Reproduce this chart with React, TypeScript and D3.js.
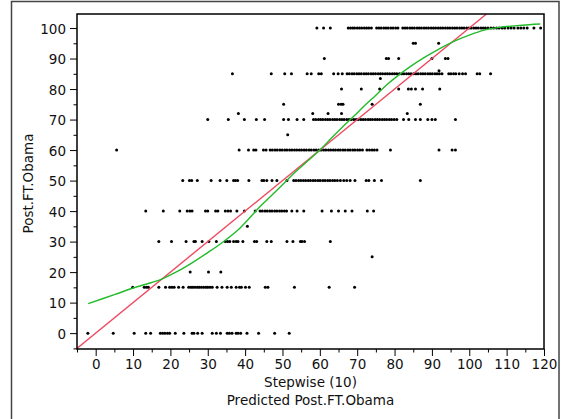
import React from "react";
import * as d3 from "d3";

// Stepwise (10) predictions (x) for each observed Post.FT.Obama value (y)
const obsAt100 = [
  59.2, 61.0, 62.8, 67.6, 68.2, 68.8, 69.3, 70.0, 70.6, 71.2, 71.9, 72.5, 73.1, 73.8, 75.2, 75.8,
  76.4, 77.1, 77.7, 78.3, 79.0, 79.6, 80.3, 80.9, 82.2, 82.8, 83.4, 84.1, 84.7, 85.3, 86.0, 86.6,
  87.2, 87.9, 88.5, 89.1, 89.8, 90.4, 91.0, 91.7, 92.3, 92.9, 93.6, 94.2, 94.8, 95.5, 96.1, 96.7,
  97.4, 98.0, 98.6, 99.3, 99.9, 100.5, 101.2, 101.8, 102.4, 103.1, 103.7, 104.3, 105.0, 105.8,
  106.5, 107.3, 108.0, 108.8, 109.5, 110.4, 111.2, 112.0, 113.0, 113.8, 114.6, 115.5, 117.3, 119.1,
];
const obsAt95 = [85.0, 85.6, 91.8];
const obsAt90 = [61.2, 77.8, 78.4, 81.1, 90.0, 93.6, 94.3];
const obsAt86 = [91.9];
const obsAt85 = [
  36.6, 47.0, 50.6, 52.4, 56.6, 57.7, 59.7, 60.4, 63.7, 64.9, 66.0, 67.3, 67.9, 68.6, 69.2, 69.9,
  70.5, 71.1, 71.8, 72.4, 73.0, 73.7, 74.3, 74.9, 75.6, 76.2, 76.8, 77.5, 78.1, 78.7, 79.4, 80.0,
  80.6, 81.3, 81.9, 82.5, 83.2, 83.8, 84.4, 85.1, 85.7, 86.3, 87.0, 87.6, 88.2, 88.9, 89.5, 90.1,
  90.8, 91.4, 92.0, 92.7, 94.5, 95.1, 95.8, 96.4, 97.3, 98.2, 99.0, 102.1, 102.8, 105.7,
];
const obsAt83 = [76.2];
const obsAt80 = [65.8, 71.1, 76.0, 81.1, 83.7, 84.5, 85.6, 87.5, 92.1];
const obsAt75 = [50.3, 65.0, 65.7, 66.2, 74.0, 86.9];
const obsAt72 = [38.2, 58.1, 62.2, 65.8, 83.4];
const obsAt70 = [
  30.0, 35.5, 39.8, 43.0, 45.2, 50.3, 51.6, 53.9, 55.7, 58.3, 58.9, 59.6, 60.2, 60.8, 61.5, 62.1,
  62.7, 63.4, 64.0, 64.6, 65.3, 65.9, 66.5, 67.2, 67.8, 68.4, 69.1, 69.7, 70.3, 71.0, 71.6, 72.2,
  72.9, 73.5, 74.1, 74.8, 75.4, 76.0, 76.7, 77.3, 77.9, 78.6, 79.2, 79.9, 80.6, 82.4, 83.8, 85.6,
  86.9, 88.9, 90.0, 90.9, 96.3,
];
const obsAt65 = [51.4];
const obsAt60 = [
  5.6, 38.4, 40.9, 42.3, 42.9, 44.9, 45.6, 46.7, 47.3, 48.0, 48.6, 49.3, 49.9, 50.6, 51.2, 51.9,
  52.5, 53.2, 53.8, 54.5, 55.1, 55.8, 56.4, 57.1, 57.7, 58.4, 59.0, 59.7, 60.3, 61.0, 61.6, 62.3,
  62.9, 63.6, 64.2, 64.9, 65.5, 66.2, 66.8, 67.5, 68.1, 68.8, 69.4, 70.1, 70.7, 71.4, 72.6, 73.3,
  74.0, 74.6, 75.3, 78.9, 91.9, 95.4, 96.3,
];
const obsAt50 = [
  23.3, 25.1, 25.7, 27.2, 30.9, 33.3, 35.1, 36.9, 37.4, 38.0, 41.0, 44.5, 45.0, 45.8, 47.2, 48.5,
  51.2, 53.0, 53.6, 54.3, 54.9, 55.6, 56.2, 56.9, 57.5, 58.2, 58.8, 59.5, 60.1, 60.8, 61.4, 62.1,
  62.7, 63.4, 64.0, 64.7, 65.5, 66.4, 67.2, 68.1, 69.4, 72.4, 73.1, 74.6, 76.5, 86.9,
];
const obsAt40 = [
  13.4, 18.1, 22.5, 24.5, 25.2, 25.8, 29.4, 30.0, 32.1, 32.7, 34.7, 35.4, 36.1, 37.8, 39.8, 42.7,
  44.0, 44.6, 45.3, 45.9, 46.6, 47.2, 47.9, 48.5, 49.2, 49.8, 50.5, 51.1, 52.5, 53.9, 55.7, 60.6,
  63.1, 65.0, 66.8, 68.6, 72.7, 74.4,
];
const obsAt35 = [40.6];
const obsAt30 = [
  16.9, 20.3, 24.2, 26.3, 26.7, 28.5, 30.3, 32.3, 34.7, 35.3, 35.9, 36.9, 37.6, 38.1, 39.4, 42.5,
  43.1, 45.8, 47.0, 51.2, 52.8, 54.8, 55.2, 55.9, 62.8,
];
const obsAt25 = [74.0];
const obsAt20 = [25.3, 30.2, 33.5];
const obsAt15 = [
  9.9, 13.0, 13.6, 14.1, 16.9, 18.7, 19.8, 20.4, 21.0, 22.2, 23.4, 24.9, 25.5, 26.0, 26.6, 27.2,
  27.7, 28.3, 28.9, 29.5, 30.0, 30.6, 31.2, 32.5, 33.8, 35.2, 36.3, 37.6, 38.5, 39.0, 40.1, 41.1,
  45.4, 46.1, 53.2, 62.5, 69.3,
];
const obsAt0 = [
  -2.1, 4.7, 10.3, 13.4, 14.7, 17.3, 17.9, 18.5, 19.2, 19.8, 21.3, 23.6, 25.8, 26.3, 27.3, 28.5,
  31.2, 32.3, 33.4, 35.2, 35.8, 36.5, 37.6, 38.1, 38.8, 40.5, 43.6, 47.9, 51.8,
];

const observedRows: [number, number[]][] = [
  [100, obsAt100], [95, obsAt95], [90, obsAt90], [86, obsAt86], [85, obsAt85], [83.5, obsAt83],
  [80, obsAt80], [75, obsAt75], [72, obsAt72], [70, obsAt70], [65, obsAt65], [60, obsAt60],
  [50, obsAt50], [40, obsAt40], [35, obsAt35], [30, obsAt30], [25, obsAt25], [20, obsAt20],
  [15, obsAt15], [0, obsAt0],
];

// smoother (green)
const smoothX = [-2, 5, 10, 15, 18, 22, 26, 30, 34, 38, 41, 44, 47, 50, 53, 56, 60, 63, 66, 69, 72, 75, 78, 81, 84, 88, 92, 96, 100, 104, 108, 112, 116, 119];
const smoothY = [9.7, 12.6, 14.8, 16.6, 17.9, 20.3, 23.2, 26.4, 29.8, 33.7, 37.5, 41.5, 45, 48.6, 52.3, 55.6, 60, 63.8, 67.5, 71, 74.6, 78, 81.5, 84.5, 87.2, 90.4, 93.2, 95.7, 97.7, 99.3, 100.2, 100.7, 101.1, 101.3];

const xTicks = [0, 10, 20, 30, 40, 50, 60, 70, 80, 90, 100, 110, 120];
const xMinor = [-5, 5, 15, 25, 35, 45, 55, 65, 75, 85, 95, 105, 115];
const yTicks = [0, 10, 20, 30, 40, 50, 60, 70, 80, 90, 100];
const yMinor = [-5, 5, 15, 25, 35, 45, 55, 65, 75, 85, 95];

const FONT = "'DejaVu Sans', sans-serif";

const App = () => {
  const axesRef = React.useRef<SVGGElement>(null);
  const width = 561;
  const height = 419;
  const plot = { left: 77, top: 14, right: 544, bottom: 349 };

  const xScale = d3.scaleLinear().domain([-5, 120]).range([plot.left, plot.right]);
  const yScale = d3.scaleLinear().domain([-5.2, 104.6]).range([plot.bottom, plot.top]);

  const points = observedRows.flatMap(([yv, xs]) => xs.map((xv) => ({ x: xv, y: yv })));

  const line = d3
    .line<[number, number]>()
    .x((d) => xScale(d[0]))
    .y((d) => yScale(d[1]));
  const smoothLine = d3
    .line<[number, number]>()
    .x((d) => xScale(d[0]))
    .y((d) => yScale(d[1]))
    .curve(d3.curveCatmullRom);

  const smoothPts = smoothX.map((v, i) => [v, smoothY[i]] as [number, number]);
  const identity: [number, number][] = [[-5.2, -5.2], [104.6, 104.6]];

  React.useEffect(() => {
    const g = d3.select(axesRef.current);
    g.selectAll("*").remove();

    const style = (sel) => {
      sel.select(".domain").remove();
      sel.selectAll("line").attr("stroke", "#000");
      sel.selectAll("text").attr("fill", "#111").style("font-family", FONT).style("font-size", "13.5px");
    };

    g.append("g")
      .attr("transform", `translate(0,${plot.bottom})`)
      .call(d3.axisBottom(xScale).tickValues(xMinor).tickSize(3.5).tickFormat(() => ""))
      .call(style);
    g.append("g")
      .attr("transform", `translate(0,${plot.bottom})`)
      .call(d3.axisBottom(xScale).tickValues(xTicks).tickSize(7).tickPadding(3.5))
      .call(style);

    g.append("g")
      .attr("transform", `translate(${plot.left},0)`)
      .call(d3.axisLeft(yScale).tickValues(yMinor).tickSize(3.5).tickFormat(() => ""))
      .call(style);
    g.append("g")
      .attr("transform", `translate(${plot.left},0)`)
      .call(d3.axisLeft(yScale).tickValues(yTicks).tickSize(7).tickPadding(4))
      .call(style)
      .selectAll("text")
      .attr("dy", "0.38em");
  }, []);

  return (
    <svg
      width={width}
      height={height}
      style={{ position: "absolute", left: 0, top: 0, background: "#fff" }}
    >
      <defs>
        <clipPath id="plotClip">
          <rect x={plot.left} y={plot.top} width={plot.right - plot.left} height={plot.bottom - plot.top} />
        </clipPath>
      </defs>
      <rect x={11.5} y={1.5} width={547.5} height={440} fill="none" stroke="#444" strokeWidth={1.5} />

      <g clipPath="url(#plotClip)">
        {points.map((p, i) => (
          <circle key={i} cx={xScale(p.x)} cy={yScale(p.y)} r={1.5} fill="#000" />
        ))}
        <path d={line(identity)} fill="none" stroke="#ee4a62" strokeWidth={1.4} />
        <path d={smoothLine(smoothPts)} fill="none" stroke="#22bb2a" strokeWidth={1.4} />
      </g>

      <rect
        x={plot.left}
        y={plot.top}
        width={plot.right - plot.left}
        height={plot.bottom - plot.top}
        fill="none"
        stroke="#000"
        strokeWidth={1.5}
      />
      <g ref={axesRef} />

      <text
        x={(plot.left + plot.right) / 2}
        y={387}
        textAnchor="middle"
        style={{ fontFamily: FONT, fontSize: "13.5px" }}
        fill="#111"
      >
        Stepwise (10)
      </text>
      <text
        x={(plot.left + plot.right) / 2}
        y={405}
        textAnchor="middle"
        style={{ fontFamily: FONT, fontSize: "13.5px" }}
        fill="#111"
      >
        Predicted Post.FT.Obama
      </text>
      <text
        transform={`translate(33,183.5) rotate(-90)`}
        textAnchor="middle"
        style={{ fontFamily: FONT, fontSize: "13.5px" }}
        fill="#111"
      >
        Post.FT.Obama
      </text>
    </svg>
  );
};

export default App;
